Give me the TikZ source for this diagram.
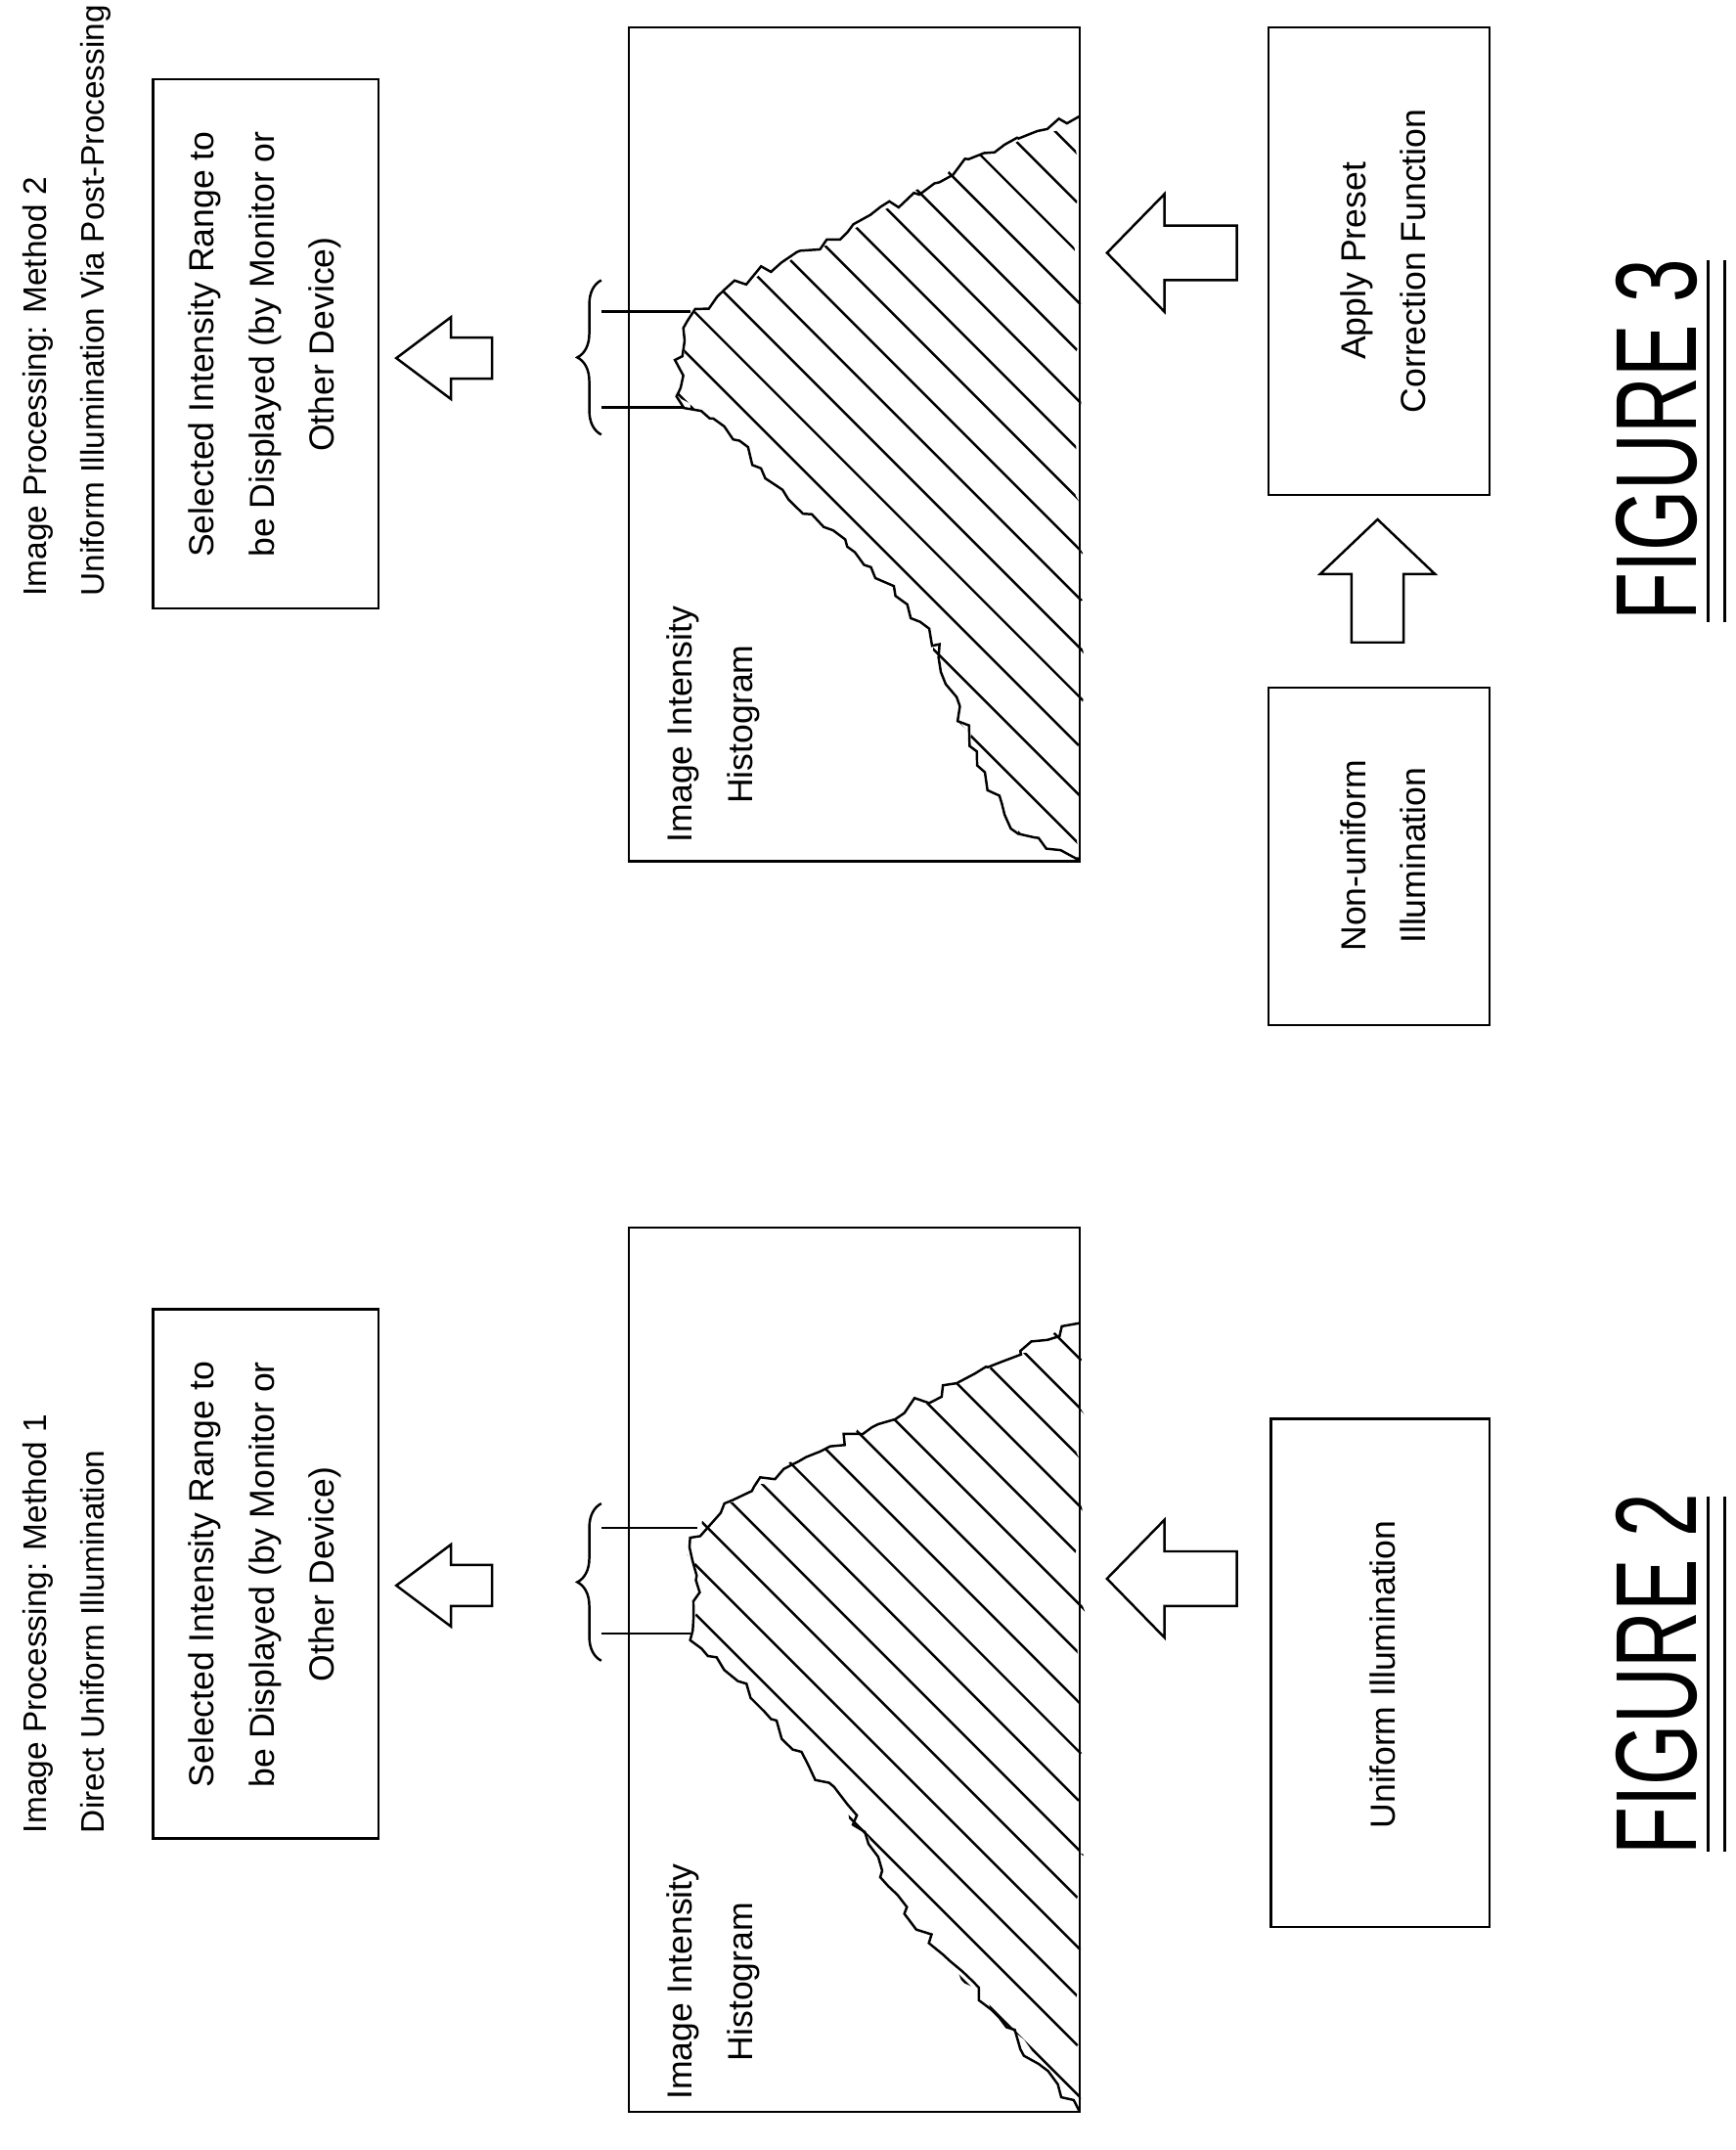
\documentclass[tikz,border=0pt]{standalone}
\usepackage{fontspec}
\setmainfont{Liberation Sans}
\usetikzlibrary{decorations.pathmorphing,decorations.pathreplacing}
\begin{document}
\begin{tikzpicture}[x=0.02cm,y=-0.02cm,line width=1pt,
  txt/.style={rotate=90,font=\fontsize{14.5}{25}\selectfont,align=center},
  ttl/.style={rotate=90,font=\fontsize{13.6}{24}\selectfont,align=left,anchor=north west,inner sep=0pt},
  box/.style={draw,line width=1pt},
  hollow/.style={draw,line width=1pt,fill=white},
  jag/.style={decorate,decoration={random steps,segment length=5,amplitude=2.5}}]
\useasboundingbox (0,0) rectangle (1270,1573);
\pgfmathsetseed{7}
% ---------- FIGURE 2 ----------
\node[ttl] (t2) at (16,1342) {Image Processing: Method 1\\Direct Uniform Illumination};
\draw[box] (112,958) rectangle (277,1345);
\node[txt] (s2) at (194,1152) {Selected Intensity Range to\\be Displayed (by Monitor or\\Other Device)};
\draw[hollow] (290,1160) -- (330,1130) -- (330,1145) -- (360,1145) -- (360,1175) -- (330,1175) -- (330,1190) -- cycle;
\draw[decorate,decoration={brace,amplitude=10pt}] (440,1215) -- (440,1100);
\draw (440,1118) -- (510,1118);
\draw (440,1195) -- (505,1195);
\begin{scope}
\clip[jag] (790,968) -- (700,1012) -- (600,1062) -- (530,1100) -- (505,1125) -- (512,1165) -- (505,1200) -- (540,1230) -- (580,1280) -- (620,1320) -- (650,1380) -- (690,1430) -- (725,1470) -- (760,1510) -- (790,1545) -- (790,968) -- cycle;
\foreach \i in {-20,...,30} \draw (460,880+\i*36) -- ++(360,360);
\end{scope}
\draw[jag] (790,968) -- (700,1012) -- (600,1062) -- (530,1100) -- (505,1125) -- (512,1165) -- (505,1200) -- (540,1230) -- (580,1280) -- (620,1320) -- (650,1380) -- (690,1430) -- (725,1470) -- (760,1510) -- (790,1545);
\draw[box] (460,898) rectangle (790,1545);
\node[txt] (h2) at (522,1450) {Image Intensity\\Histogram};
\draw[hollow] (810,1155) -- (852,1112) -- (852,1135) -- (905,1135) -- (905,1175) -- (852,1175) -- (852,1198) -- cycle;
\draw[box] (930,1038) rectangle (1090,1410);
\node[txt] (u2) at (1012,1225) {Uniform Illumination};
\node[rotate=90,font=\fontsize{48}{50}\selectfont] (f2) at (1212,1225) {\scalebox{0.68}[1]{FIGURE 2}};
\draw (1250,1355) -- (1250,1095);
\draw (1262,1355) -- (1262,1095);
% ---------- FIGURE 3 ----------
\node[ttl] (t3) at (16,437) {Image Processing: Method 2\\Uniform Illumination Via Post-Processing};
\draw[box] (112,58) rectangle (277,445);
\node[txt] (s3) at (194,252) {Selected Intensity Range to\\be Displayed (by Monitor or\\Other Device)};
\draw[hollow] (290,262) -- (330,232) -- (330,247) -- (360,247) -- (360,277) -- (330,277) -- (330,292) -- cycle;
\draw[decorate,decoration={brace,amplitude=10pt}] (440,318) -- (440,205);
\draw (440,228) -- (505,228);
\draw (440,298) -- (500,298);
\begin{scope}
\clip[jag] (790,85) -- (720,112) -- (620,170) -- (530,212) -- (500,240) -- (495,290) -- (530,312) -- (560,350) -- (620,400) -- (680,460) -- (700,510) -- (715,560) -- (745,610) -- (790,628) -- (790,85) -- cycle;
\foreach \i in {-20,...,30} \draw (460,0+\i*36) -- ++(360,360);
\end{scope}
\draw[jag] (790,85) -- (720,112) -- (620,170) -- (530,212) -- (500,240) -- (495,290) -- (530,312) -- (560,350) -- (620,400) -- (680,460) -- (700,510) -- (715,560) -- (745,610) -- (790,628);
\draw[box] (460,20) rectangle (790,630);
\node[txt] (h3) at (522,530) {Image Intensity\\Histogram};
\draw[hollow] (810,185) -- (852,142) -- (852,165) -- (905,165) -- (905,205) -- (852,205) -- (852,228) -- cycle;
\draw[box] (928,20) rectangle (1090,362);
\node[txt] (a3) at (1012,191) {Apply Preset\\Correction Function};
\draw[hollow] (1008,380) -- (1050,420) -- (1027,420) -- (1027,470) -- (989,470) -- (989,420) -- (966,420) -- cycle;
\draw[box] (928,503) rectangle (1090,750);
\node[txt] (n3) at (1012,626) {Non-uniform\\Illumination};
\node[rotate=90,font=\fontsize{48}{50}\selectfont] (f3) at (1212,322) {\scalebox{0.68}[1]{FIGURE 3}};
\draw (1250,455) -- (1250,190);
\draw (1262,455) -- (1262,190);
\end{tikzpicture}
\end{document}
